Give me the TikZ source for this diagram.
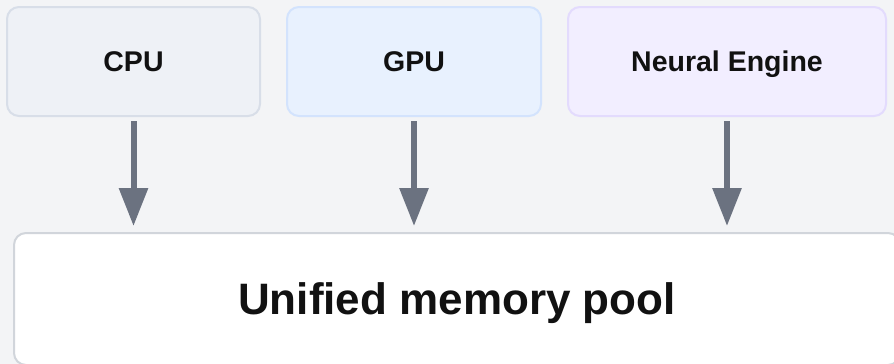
\documentclass[tikz,border=0pt]{standalone}
\usepackage{fontspec}
\setmainfont{Liberation Sans}
\usetikzlibrary{arrows.meta}
\definecolor{bgcol}{HTML}{F3F4F6}
\definecolor{cpufill}{HTML}{EEF1F6}
\definecolor{cpuline}{HTML}{D8DEE8}
\definecolor{gpufill}{HTML}{E8F1FE}
\definecolor{gpuline}{HTML}{D3E3FD}
\definecolor{nefill}{HTML}{F2EEFF}
\definecolor{neline}{HTML}{E3DBFD}
\definecolor{poolline}{HTML}{D1D5DB}
\definecolor{arrowcol}{HTML}{6B7280}
\definecolor{textcol}{HTML}{111111}
\tikzset{
  unitbox/.style={draw, line width=2pt, rounded corners=12pt, inner sep=0pt,
    text height=20.4pt, text depth=0pt,
    font=\fontsize{28.5}{34}\selectfont\bfseries, text=textcol},
  poolbox/.style={draw=poolline, fill=white, line width=2pt, rounded corners=12pt, inner sep=0pt,
    text height=31.5pt, text depth=0pt,
    font=\fontsize{44}{52}\selectfont\bfseries, text=textcol},
  flow/.style={draw=arrowcol, line width=6pt, shorten <=4pt, shorten >=6pt,
    -{Triangle[length=38pt, width=28pt]}},
}
\begin{document}
\begin{tikzpicture}[x=1pt, y=-1pt]
  \fill[bgcol] (0,0) rectangle (894,364);
  \useasboundingbox (0,0) rectangle (894,364);
  % processing units
  \node[unitbox, fill=cpufill, draw=cpuline, minimum width=253pt, minimum height=109pt] (cpu) at (133.5,61.5) {CPU};
  \node[unitbox, fill=gpufill, draw=gpuline, minimum width=254pt, minimum height=109pt] (gpu) at (414,61.5) {GPU};
  \node[unitbox, fill=nefill, draw=neline, minimum width=318pt, minimum height=109pt] (ne) at (727,61.5) {Neural Engine};
  % shared memory
  \node[poolbox, minimum width=886pt, minimum height=132pt] (pool) at (457,299) {Unified memory pool};
  % data paths into the pool
  \draw[flow] (cpu.south) -- (cpu.south |- pool.north);
  \draw[flow] (gpu.south) -- (gpu.south |- pool.north);
  \draw[flow] (ne.south) -- (ne.south |- pool.north);
\end{tikzpicture}
\end{document}
